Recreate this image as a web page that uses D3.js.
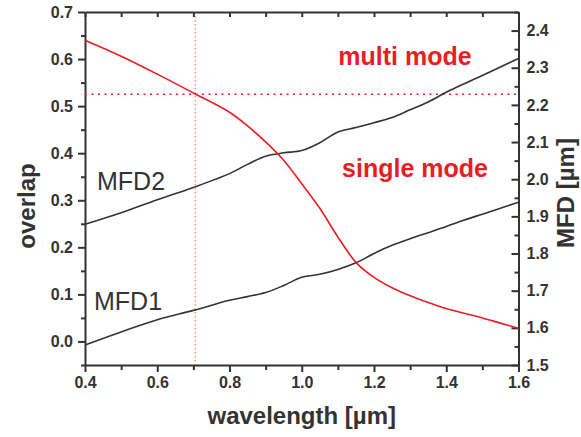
<!DOCTYPE html>
<html>
<head>
<meta charset="utf-8">
<script src="https://cdn.jsdelivr.net/npm/d3@7"></script>
<style>
html,body{margin:0;padding:0;background:#fff;}
svg{display:block;}
text{font-family:"Liberation Sans",Arial,Helvetica,sans-serif;}
</style>
</head>
<body>
<svg id="chart" width="581" height="437"></svg>
<script>
// wavelength grid [µm]
const wavelength = [0.4,0.5,0.6,0.7,0.8,0.85,0.9,0.95,1.0,1.05,1.1,1.15,1.2,1.25,1.3,1.35,1.4,1.45,1.5,1.55,1.6];
// overlap (left axis)
const overlap = [0.640,0.606,0.568,0.528,0.487,0.458,0.424,0.385,0.335,0.283,0.222,0.168,0.136,0.114,0.097,0.083,0.070,0.060,0.050,0.039,0.028];
// MFD2 and MFD1 (right axis, µm)
const mfd2 = [1.879,1.910,1.945,1.978,2.015,2.040,2.062,2.071,2.077,2.098,2.127,2.139,2.152,2.166,2.187,2.208,2.234,2.257,2.279,2.302,2.325];
const mfd1 = [1.554,1.589,1.622,1.647,1.674,1.684,1.695,1.714,1.736,1.744,1.757,1.775,1.800,1.822,1.840,1.856,1.873,1.890,1.906,1.922,1.938];
// cutoff markers
const cutoffWavelength = 0.705;
const cutoffOverlap = 0.525;
// tick values
const xTicks = [0.4,0.6,0.8,1.0,1.2,1.4,1.6];
const xMinor = [0.5,0.7,0.9,1.1,1.3,1.5];
const leftTicks = [0.0,0.1,0.2,0.3,0.4,0.5,0.6,0.7];
const leftMinor = [-0.05,0.05,0.15,0.25,0.35,0.45,0.55,0.65];
const rightTicks = [1.5,1.6,1.7,1.8,1.9,2.0,2.1,2.2,2.3,2.4];
const rightMinor = [1.55,1.65,1.75,1.85,1.95,2.05,2.15,2.25,2.35,2.45];

const svg = d3.select("#chart");
const L = 85, R = 518.5, T = 12, B = 365;
const ink = "#333";
const red = "#ec1c24";

const x = d3.scaleLinear().domain([0.4,1.6]).range([L,R]);
const yL = d3.scaleLinear().domain([-0.05,0.7]).range([B,T]);
const yR = d3.scaleLinear().domain([1.5,2.45]).range([B,T]);

function styleAxis(g){
  g.selectAll(".domain").attr("stroke",ink).attr("stroke-width",2);
  g.selectAll(".tick line").attr("stroke",ink).attr("stroke-width",2);
  g.selectAll(".tick text").attr("fill",ink).attr("font-size",16).attr("font-weight","bold")
   .attr("font-family",'"Liberation Sans",Arial,Helvetica,sans-serif');
}
function styleMinor(g){
  g.selectAll(".domain").remove();
  g.selectAll(".tick line").attr("stroke",ink).attr("stroke-width",2);
}

// minor ticks
svg.append("g").attr("transform",`translate(${L},0)`)
  .call(d3.axisLeft(yL).tickValues(leftMinor).tickSize(4).tickFormat("")).call(styleMinor);
svg.append("g").attr("transform",`translate(${R},0)`)
  .call(d3.axisRight(yR).tickValues(rightMinor).tickSize(-4).tickFormat("")).call(styleMinor);
svg.append("g").attr("transform",`translate(0,${B})`)
  .call(d3.axisBottom(x).tickValues(xMinor).tickSize(5).tickFormat("")).call(styleMinor);
svg.append("g").attr("transform",`translate(0,${T})`)
  .call(d3.axisTop(x).tickValues(xMinor).tickSize(-5).tickFormat("")).call(styleMinor);

// major axes
svg.append("g").attr("transform",`translate(${L},0)`)
  .call(d3.axisLeft(yL).tickValues(leftTicks).tickSize(7).tickSizeOuter(0).tickPadding(5).tickFormat(d3.format(".1f")))
  .call(styleAxis);
svg.append("g").attr("transform",`translate(${R},0)`)
  .call(d3.axisRight(yR).tickValues(rightTicks).tickSize(-7).tickSizeOuter(0).tickPadding(8).tickFormat(d3.format(".1f")))
  .call(styleAxis);
svg.append("g").attr("transform",`translate(0,${B})`)
  .call(d3.axisBottom(x).tickValues(xTicks).tickSize(7).tickSizeOuter(0).tickPadding(5).tickFormat(d3.format(".1f")))
  .call(styleAxis);
svg.append("g").attr("transform",`translate(0,${T})`)
  .call(d3.axisTop(x).tickValues(xTicks).tickSize(-5).tickSizeOuter(0).tickFormat(""))
  .call(styleAxis);

// dotted cutoff lines
svg.append("line").attr("x1",x(cutoffWavelength)).attr("x2",x(cutoffWavelength))
  .attr("y1",T).attr("y2",B).attr("stroke",red).attr("stroke-opacity",0.7)
  .attr("stroke-width",1).attr("stroke-dasharray","1.5,2.5");
svg.append("line").attr("x1",L).attr("x2",R)
  .attr("y1",yL(cutoffOverlap)).attr("y2",yL(cutoffOverlap)).attr("stroke",red)
  .attr("stroke-width",1.5).attr("stroke-dasharray","2,4.5");

// curves
const curve = d3.curveCatmullRom.alpha(0.5);
const lineL = d3.line().x((d,i)=>x(wavelength[i])).y(d=>yL(d)).curve(curve);
const lineR = d3.line().x((d,i)=>x(wavelength[i])).y(d=>yR(d)).curve(curve);
svg.append("path").datum(mfd2).attr("d",lineR).attr("fill","none").attr("stroke",ink).attr("stroke-width",1.6);
svg.append("path").datum(mfd1).attr("d",lineR).attr("fill","none").attr("stroke",ink).attr("stroke-width",1.6);
svg.append("path").datum(overlap).attr("d",lineL).attr("fill","none").attr("stroke",red).attr("stroke-width",1.6);

// labels
svg.append("text").attr("x",97).attr("y",190).attr("font-size",25).attr("fill",ink).text("MFD2");
svg.append("text").attr("x",94).attr("y",310).attr("font-size",25).attr("fill",ink).text("MFD1");
svg.append("text").attr("x",405).attr("y",65).attr("text-anchor","middle").attr("font-size",25)
  .attr("font-weight","bold").attr("fill",red).text("multi mode");
svg.append("text").attr("x",415).attr("y",177).attr("text-anchor","middle").attr("font-size",25)
  .attr("font-weight","bold").attr("fill",red).text("single mode");

// axis titles
svg.append("text").attr("x",(L+R)/2).attr("y",424).attr("text-anchor","middle")
  .attr("font-size",24).attr("font-weight","bold").attr("fill",ink).text("wavelength [µm]");
svg.append("text").attr("transform","translate(35,206) rotate(-90)").attr("text-anchor","middle")
  .attr("font-size",24).attr("font-weight","bold").attr("fill",ink).text("overlap");
svg.append("text").attr("transform","translate(574,193) rotate(-90)").attr("text-anchor","middle")
  .attr("font-size",24).attr("font-weight","bold").attr("fill",ink).text("MFD [µm]");
</script>
</body>
</html>
